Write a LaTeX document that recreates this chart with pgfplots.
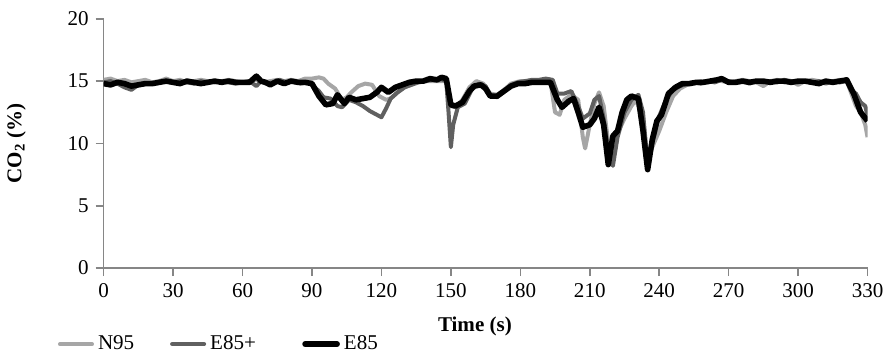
\documentclass[border=0pt]{standalone}
\usepackage{pgfplots}
\pgfplotsset{compat=1.18}
\usepackage{fontspec}
\setmainfont{Liberation Serif}
\definecolor{cN}{RGB}{166,166,166}
\definecolor{cE}{RGB}{96,96,96}
\definecolor{axc}{RGB}{134,134,134}
\begin{document}
\begin{tikzpicture}
\begin{axis}[
  scale only axis,
  width=381.5pt, height=124.5pt,
  xmin=0, xmax=330, ymin=0, ymax=20,
  xtick={0,30,...,330}, ytick={0,5,...,20},
  axis x line*=bottom, axis y line*=left,
  axis line style={axc, line width=0.8pt},
  tick style={axc, line width=0.8pt},
  tick align=outside, tickwidth=4pt,
  x axis line style={-}, y axis line style={-},
  /pgf/number format/assume math mode=true,
  tick label style={font=\fontsize{10.5}{12}\selectfont},
  xlabel={\textbf{Time (s)}},
  ylabel={\textbf{CO\textsubscript{2} (\%)}},
  label style={font=\fontsize{10.5}{12}\selectfont},
  xlabel style={at={(rel axis cs:0.486,0)}, anchor=north, yshift=-21pt},
  ylabel style={yshift=14pt},
  legend columns=3,
  legend style={draw=none, fill=none, at={(rel axis cs:0,0)}, anchor=north west,
    xshift=-26pt, yshift=-29.5pt, font=\fontsize{10.5}{12}\selectfont},
  legend image code/.code={\draw[#1, line cap=round] (0pt,0pt) -- (16pt,0pt);},
  line join=round,
]
\addplot[cN, line width=2pt] coordinates {(0,15.1)(3,15.2)(6,15.0)(9,15.1)(12,14.9)(15,15.0)(18,15.1)(21,14.9)(24,15.0)(27,15.2)(30,15.0)(33,15.1)(36,14.9)(39,15.0)(42,15.1)(45,15.0)(48,14.9)(51,15.0)(54,15.1)(57,15.0)(60,14.9)(63,15.0)(66,15.1)(69,14.9)(72,15.0)(75,15.1)(78,15.0)(81,15.1)(84,15.0)(87,15.2)(90,15.2)(93,15.3)(95,15.2)(97,14.8)(100,14.4)(103,13.5)(105,13.7)(107,14.1)(110,14.6)(113,14.8)(116,14.7)(119,13.8)(122,13.5)(124,13.6)(127,14.1)(130,14.5)(133,14.8)(136,14.9)(140,15.0)(144,15.0)(148,15.0)(150,13.0)(152,12.9)(155,13.5)(158,14.5)(161,15.0)(164,14.8)(167,14.0)(170,13.9)(173,14.3)(176,14.8)(180,15.0)(185,15.0)(190,15.1)(193,15.0)(195,12.5)(197,12.3)(199,13.5)(202,13.9)(205,13.5)(207,10.5)(208,9.6)(210,11.5)(212,13.2)(214,14.1)(216,13.0)(218,10.0)(220,8.6)(222,10.8)(225,12.0)(228,13.0)(230,13.5)(233,12.0)(235,8.5)(237,9.7)(240,11.0)(243,12.5)(246,13.8)(249,14.4)(252,14.7)(255,14.9)(258,15.0)(261,14.9)(264,15.1)(267,15.0)(270,14.9)(273,15.0)(276,15.1)(279,15.0)(282,14.9)(285,14.6)(288,15.0)(291,15.1)(294,14.9)(297,15.0)(300,14.7)(303,15.0)(306,15.1)(309,15.0)(312,14.9)(315,15.0)(318,15.1)(321,15.0)(323,14.0)(325,13.0)(327,12.5)(329,11.5)(330,10.5)};
\addlegendentry{\makebox[34pt][l]{N95}}
\addplot[cE, line width=2pt] coordinates {(0,14.9)(3,15.0)(6,14.8)(9,14.5)(12,14.3)(15,14.7)(18,14.8)(21,14.8)(24,14.9)(27,15.0)(30,14.9)(33,15.0)(36,14.9)(39,14.8)(42,15.0)(45,14.9)(48,15.0)(51,15.0)(54,14.9)(57,14.8)(60,14.9)(63,15.0)(66,14.6)(68,15.0)(70,14.8)(73,14.9)(76,15.1)(79,14.9)(82,15.0)(85,14.8)(88,14.9)(90,14.7)(93,14.2)(95,13.7)(98,13.6)(101,13.0)(103,12.9)(106,13.5)(109,13.3)(112,13.0)(115,12.6)(118,12.3)(120,12.1)(122,12.8)(124,13.6)(127,14.1)(130,14.5)(133,14.7)(136,14.9)(139,15.0)(142,15.1)(145,15.2)(148,15.0)(149,12.5)(150,9.7)(151,11.5)(153,12.9)(156,13.2)(159,14.3)(162,14.8)(165,14.6)(167,13.9)(170,13.7)(173,14.2)(176,14.7)(179,14.9)(182,15.0)(185,15.1)(188,15.1)(191,15.2)(194,15.1)(196,14.0)(199,14.0)(202,14.2)(205,13.0)(207,12.0)(210,12.4)(212,13.5)(214,13.8)(216,12.0)(218,9.5)(220,8.2)(222,10.5)(225,12.5)(228,13.5)(231,13.9)(233,12.5)(235,8.3)(237,10.0)(240,12.2)(243,13.5)(246,14.3)(249,14.6)(252,14.8)(255,14.9)(258,14.8)(261,15.0)(264,14.9)(267,15.1)(270,15.0)(273,14.9)(276,15.0)(279,14.8)(282,15.0)(285,14.9)(288,15.0)(291,14.9)(294,15.1)(297,15.0)(300,14.9)(303,15.0)(306,14.9)(309,15.0)(312,14.8)(315,15.0)(318,14.9)(321,15.0)(323,14.2)(325,14.0)(327,13.3)(329,13.0)(330,12.2)};
\addlegendentry{\makebox[44pt][l]{E85+}}
\addplot[black, line width=2.8pt] coordinates {(0,14.8)(3,14.7)(6,14.9)(9,14.8)(12,14.6)(15,14.7)(18,14.8)(21,14.8)(24,14.9)(27,15.0)(30,14.9)(33,14.8)(36,15.0)(39,14.9)(42,14.8)(45,14.9)(48,15.0)(51,14.9)(54,15.0)(57,14.9)(60,14.9)(63,14.9)(66,15.4)(68,15.0)(70,14.9)(72,14.7)(75,15.0)(78,14.8)(81,15.0)(84,14.9)(87,14.9)(90,14.8)(93,13.8)(96,13.1)(99,13.2)(101,13.9)(104,13.2)(106,13.7)(109,13.5)(112,13.6)(115,13.7)(118,14.1)(120,14.5)(123,14.1)(126,14.5)(129,14.7)(132,14.9)(135,15.0)(138,15.0)(141,15.2)(144,15.1)(146,15.3)(148,15.2)(150,13.1)(152,13.0)(155,13.3)(158,14.2)(160,14.6)(163,14.7)(165,14.4)(167,13.8)(170,13.8)(173,14.2)(176,14.6)(179,14.8)(182,14.8)(185,14.9)(188,14.9)(191,14.9)(193,14.9)(196,13.5)(198,12.9)(201,13.4)(203,13.6)(205,12.5)(207,11.3)(210,11.5)(212,12.0)(214,12.9)(216,11.5)(218,8.3)(220,10.6)(222,11.0)(224,12.5)(226,13.5)(228,13.8)(231,13.6)(233,11.0)(235,7.9)(237,10.3)(239,11.8)(241,12.3)(244,14.0)(247,14.5)(250,14.8)(253,14.8)(256,14.9)(259,14.9)(262,15.0)(265,15.1)(267,15.2)(270,14.9)(273,14.9)(276,15.0)(279,14.9)(282,15.0)(285,15.0)(288,14.9)(291,15.0)(294,15.0)(297,14.9)(300,15.0)(303,15.0)(306,14.9)(309,14.8)(312,15.0)(315,14.9)(318,15.0)(321,15.1)(324,14.0)(327,12.5)(330,11.8)};
\addlegendentry{E85}
\end{axis}
\path (current bounding box.north) ++(0,2.5pt);
\end{tikzpicture}
\end{document}
